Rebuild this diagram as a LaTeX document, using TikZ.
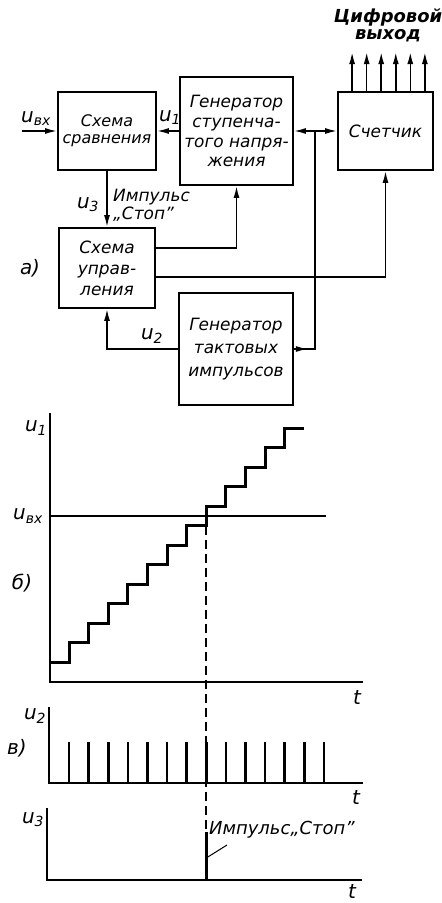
\documentclass[tikz,border=0pt]{standalone}
\usepackage{fontspec}
\setmainfont{DejaVu Sans}[ItalicFont={DejaVu Sans Oblique},BoldItalicFont={DejaVu Sans Bold Oblique}]
\usetikzlibrary{arrows.meta,positioning,calc}
\tikzset{
    >={Latex[length=12bp,width=6bp]},
    block/.style={
        rectangle,
        draw,
        line width=1.8bp,
        inner sep=0pt,
        align=center,
        font=\fontsize{17}{20}\selectfont\itshape
    },
    link/.style={line width=1.6bp},
    lbl/.style={inner sep=0pt, font=\fontsize{20}{20}\selectfont\itshape},
    axis/.style={line width=1.7bp},
    stair/.style={line width=3bp, line join=miter},
    pulse/.style={line width=2.6bp},
    guide/.style={line width=1.6bp, dash pattern=on 9bp off 5bp}
}

\begin{document}
\begin{tikzpicture}[x=1bp,y=-1bp]
    \useasboundingbox (0,0) rectangle (442,903);
    % a) block diagram
    \node[block, minimum width=98bp, minimum height=78bp, font=\fontsize{16}{17}\selectfont\itshape] (cmp) at (107,131) {Схема\\сравнения};
    \node[block, minimum width=113bp, minimum height=108bp] (stepgen) at (236.5,131) {Генератор\\ступенча-\\того напря-\\жения};
    \node[block, minimum width=95bp, minimum height=78bp] (counter) at (385.5,131) {Счетчик};
    \node[block, minimum width=96bp, minimum height=80bp, font=\fontsize{17}{21}\selectfont\itshape] (ctrl) at (107,268) {Схема\\управ-\\ления};
    \node[block, minimum width=114bp, minimum height=112bp, font=\fontsize{17}{23}\selectfont\itshape] (clock) at (236,349) {Генератор\\тактовых\\импульсов};

    \coordinate (vin) at (22,131);
    \coordinate (tap) at (315,131);
    \draw[link,->] (vin) -- (cmp.west);
    \draw[link,->] (stepgen.west) -- (cmp.east);
    \draw[link,->] (tap) -- (stepgen.east);
    \draw[link,->] (tap) -- (counter.west);
    \draw[link] (clock.east) -- (tap |- clock.east) -- (tap);
    \draw[link,->] (clock.east) -- ++(14,0);
    \draw[link,->] (cmp.south) -- (ctrl.north);
    \draw[link,->] ([yshift=20bp]ctrl.east) -| (stepgen.south);
    \draw[link,->] ([yshift=-9bp]ctrl.east) -| (counter.south);
    \draw[link,->] (clock.west) -| (ctrl.south);
    \foreach \i in {0,...,5}
        \draw[link,->] ([xshift={-33.5+14.6*\i}]counter.north) -- ++(0,-39);

    \node[lbl] (uin) at (36,119) {u\textsubscript{вх}};
    \node[lbl] (u1) at (170,118) {u\textsubscript{1}};
    \node[lbl] (u3) at (88,205) {u\textsubscript{3}};
    \node[lbl, align=left, anchor=west, font=\fontsize{17}{18}\selectfont\itshape] (stoptxt) at (113,205) {Импульс\\„Стоп”};
    \node[lbl] (parta) at (30,268) {а)};
    \node[lbl, font=\fontsize{18}{17}\selectfont\bfseries\itshape, align=center] (digout) at (388,25) {Цифровой\\выход};
    \node[lbl] (u2) at (152,336) {u\textsubscript{2}};

    % b) staircase voltage
    \coordinate (ob) at (50,682);
    \draw[axis] (50,413) -- (ob) -- (363,682);
    \draw[link] (50,516) -- (326,516);
    \draw[stair] (50,662) foreach \k in {0,...,11} { -- ({69+19.6*\k},{662-19.5*\k}) -- ({69+19.6*\k},{662-19.5*(\k+1)}) } -- (304,428);
    \node[lbl] (ub1) at (36,428) {u\textsubscript{1}};
    \node[lbl] (ubin) at (28,516) {u\textsubscript{вх}};
    \node[lbl] (partb) at (22,583) {б)};
    \node[lbl] (tb) at (357,697) {t};

    % v) clock pulses
    \coordinate (ov) at (49,783);
    \draw[axis] (49,707) -- (ov) -- (363,783);
    \foreach \k in {0,...,13}
        \draw[pulse] ({69+19.6*\k},783) -- ({69+19.6*\k},742);
    \node[lbl] (uv2) at (35,716) {u\textsubscript{2}};
    \node[lbl] (partv) at (17,748) {в)};
    \node[lbl] (tv) at (356,797) {t};

    % g) stop pulse
    \coordinate (og) at (47,880);
    \draw[axis] (47,808) -- (og) -- (362,880);
    \draw[pulse] (206.2,880) -- (206.2,832);
    \draw[guide] (206.2,526) -- (206.2,832);
    \coordinate (lead) at (206.2,858);
    \node[lbl, anchor=west, font=\fontsize{18}{18}\selectfont\itshape] (stopg) at (209,830) {Импульс„Стоп”};
    \draw[line width=1bp] (lead) -- (227,845);
    \node[lbl] (ug3) at (33,820) {u\textsubscript{3}};
    \node[lbl] (tg) at (352,891) {t};
\end{tikzpicture}
\end{document}
